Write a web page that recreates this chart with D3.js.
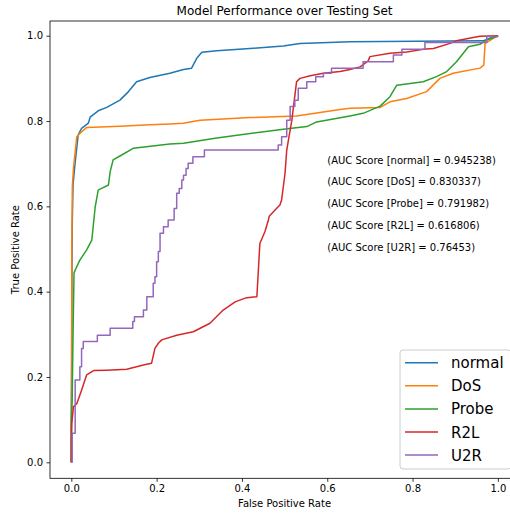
<!DOCTYPE html>
<html><head><meta charset="utf-8">
<script src="https://cdn.jsdelivr.net/npm/d3@7"></script>
<style>body{margin:0;background:#fff;} svg{display:block;font-family:"DejaVu Sans",sans-serif;}</style>
</head><body>
<svg id="chart" width="510" height="516"></svg>
<script>
const seriesNames = ["normal","DoS","Probe","R2L","U2R"];
const seriesColors = ["#1f77b4","#ff7f0e","#2ca02c","#d62728","#9467bd"];
const aucScores = ["0.945238","0.830337","0.791982","0.616806","0.76453"];
const xTicks = [0.0,0.2,0.4,0.6,0.8,1.0];
const yTicks = [0.0,0.2,0.4,0.6,0.8,1.0];

const fprNormal = [0,0,0.001,0.002,0.004,0.0087,0.016,0.024,0.040,0.044,0.063,0.083,0.114,0.134,0.153,0.184,0.231,0.263,0.282,0.294,0.306,0.341,0.419,0.497,0.536,0.653,0.965,0.997,1];
const tprNormal = [0,0.12,0.35,0.55,0.65,0.70,0.767,0.783,0.795,0.809,0.824,0.832,0.849,0.869,0.892,0.902,0.912,0.921,0.924,0.947,0.961,0.965,0.970,0.976,0.982,0.986,0.988,1.0,1];

const fprDoS = [0,0,0.001,0.001,0.002,0.0023,0.005,0.0087,0.0127,0.020,0.036,0.114,0.184,0.231,0.262,0.302,0.419,0.528,0.575,0.630,0.653,0.724,0.747,0.786,0.833,0.864,0.895,0.958,0.967,0.970,1];
const tprDoS = [0,0.06,0.2,0.5,0.6,0.646,0.69,0.724,0.763,0.771,0.785,0.788,0.791,0.793,0.795,0.802,0.808,0.812,0.819,0.827,0.830,0.832,0.845,0.853,0.869,0.900,0.912,0.924,0.931,0.982,1];

const fprProbe = [0,0,0.002,0.004,0.0063,0.011,0.020,0.036,0.048,0.056,0.063,0.071,0.087,0.091,0.098,0.114,0.145,0.231,0.263,0.341,0.419,0.497,0.552,0.575,0.653,0.684,0.724,0.747,0.763,0.825,0.856,0.880,0.903,0.931,0.958,0.974,0.997,1];
const tprProbe = [0,0.10,0.146,0.3,0.444,0.455,0.474,0.498,0.521,0.599,0.638,0.642,0.650,0.681,0.709,0.718,0.736,0.746,0.748,0.760,0.771,0.781,0.787,0.798,0.812,0.818,0.835,0.857,0.884,0.892,0.904,0.916,0.939,0.974,0.980,0.990,0.998,1];

const fprR2L = [0,0,0.001,0.005,0.013,0.024,0.036,0.052,0.083,0.130,0.169,0.188,0.196,0.204,0.212,0.247,0.286,0.325,0.356,0.384,0.411,0.435,0.442,0.454,0.462,0.464,0.481,0.489,0.493,0.501,0.505,0.517,0.528,0.536,0.560,0.591,0.630,0.653,0.677,0.696,0.700,0.747,0.786,0.825,0.849,0.888,0.903,0.942,0.958,1];
const tprR2L = [0,0.05,0.091,0.130,0.138,0.169,0.205,0.215,0.216,0.218,0.228,0.232,0.267,0.279,0.287,0.298,0.306,0.326,0.357,0.376,0.386,0.388,0.513,0.541,0.568,0.577,0.595,0.603,0.615,0.677,0.732,0.802,0.892,0.900,0.906,0.912,0.916,0.921,0.927,0.941,0.951,0.959,0.962,0.968,0.970,0.982,0.988,0.996,0.999,1];

// U2R is a step curve: each point is the top of a vertical rise at that FPR
const fprU2R = [0,0.002,0.009,0.020,0.024,0.028,0.061,0.091,0.144,0.148,0.169,0.177,0.192,0.196,0.200,0.204,0.208,0.216,0.227,0.241,0.247,0.253,0.259,0.263,0.269,0.274,0.285,0.312,0.485,0.493,0.505,0.513,0.524,0.532,0.552,0.573,0.591,0.610,0.684,0.755,0.775,0.829,0.974,1];
const tprU2R = [0,0.068,0.193,0.224,0.267,0.283,0.298,0.314,0.330,0.341,0.357,0.388,0.420,0.435,0.470,0.494,0.537,0.552,0.568,0.595,0.631,0.642,0.662,0.673,0.689,0.701,0.716,0.732,0.744,0.763,0.802,0.834,0.849,0.877,0.892,0.904,0.912,0.924,0.939,0.955,0.968,0.984,0.998,1];

const fprs = [fprNormal,fprDoS,fprProbe,fprR2L,fprU2R];
const tprs = [tprNormal,tprDoS,tprProbe,tprR2L,tprU2R];
const curves = [d3.curveLinear,d3.curveLinear,d3.curveLinear,d3.curveLinear,d3.curveStepAfter];

const svg = d3.select("#chart");
const x = d3.scaleLinear().domain([-0.05,1.05]).range([50,519.2]);
const y = d3.scaleLinear().domain([-0.0375,1.0345]).range([478.3,21]);

const g = svg.append("g");
seriesNames.forEach((n,i)=>{
  const pts = fprs[i].map((v,j)=>[v,tprs[i][j]]);
  const line = d3.line().x(d=>x(d[0])).y(d=>y(d[1])).curve(curves[i]);
  g.append("path").attr("d",line(pts)).attr("fill","none")
   .attr("stroke",seriesColors[i]).attr("stroke-width",1.5).attr("stroke-linejoin","round");
});

// axes
const xAxis = d3.axisBottom(x).tickValues(xTicks).tickFormat(d3.format(".1f")).tickSize(3.5).tickPadding(3.5);
const yAxis = d3.axisLeft(y).tickValues(yTicks).tickFormat(d3.format(".1f")).tickSize(3.5).tickPadding(3.5);
const gx = svg.append("g").attr("transform","translate(0,478.3)").call(xAxis);
const gy = svg.append("g").attr("transform","translate(50,0)").call(yAxis);
[gx,gy].forEach(a=>{
  a.select(".domain").remove();
  a.selectAll(".tick line").attr("stroke","#000").attr("stroke-width",0.8);
  a.selectAll(".tick text").attr("font-size",10).attr("fill","#000").attr("font-family","DejaVu Sans");
});
svg.append("rect").attr("x",50).attr("y",21).attr("width",519.2-50).attr("height",478.3-21)
  .attr("fill","none").attr("stroke","#000").attr("stroke-width",0.8);

// AUC texts
aucScores.forEach((s,i)=>{
  svg.append("text").attr("x",x(0.6)).attr("y",y(0.7-0.051*i))
    .attr("font-size",10).attr("fill","#000")
    .text(`(AUC Score [${seriesNames[i]}] = ${s})`);
});

// title & labels
svg.append("text").attr("x",284.6).attr("y",15).attr("text-anchor","middle").attr("font-size",12).text("Model Performance over Testing Set");
svg.append("text").attr("x",284.6).attr("y",507).attr("text-anchor","middle").attr("font-size",10).text("False Positive Rate");
svg.append("text").attr("transform","translate(19,249.6) rotate(-90)").attr("text-anchor","middle").attr("font-size",10).text("True Positive Rate");

// legend
const lg = svg.append("g");
lg.append("rect").attr("x",400).attr("y",350).attr("width",111).attr("height",119).attr("rx",3)
  .attr("fill","#fff").attr("fill-opacity",0.8).attr("stroke","#ccc").attr("stroke-width",1);
seriesNames.forEach((n,i)=>{
  const yy = 362.7 + i*23.1;
  lg.append("line").attr("x1",405).attr("x2",438).attr("y1",yy).attr("y2",yy)
    .attr("stroke",seriesColors[i]).attr("stroke-width",1.5);
  lg.append("text").attr("x",451).attr("y",yy+5.5).attr("font-size",15).attr("fill","#000").text(n);
});
</script>
</body></html>
